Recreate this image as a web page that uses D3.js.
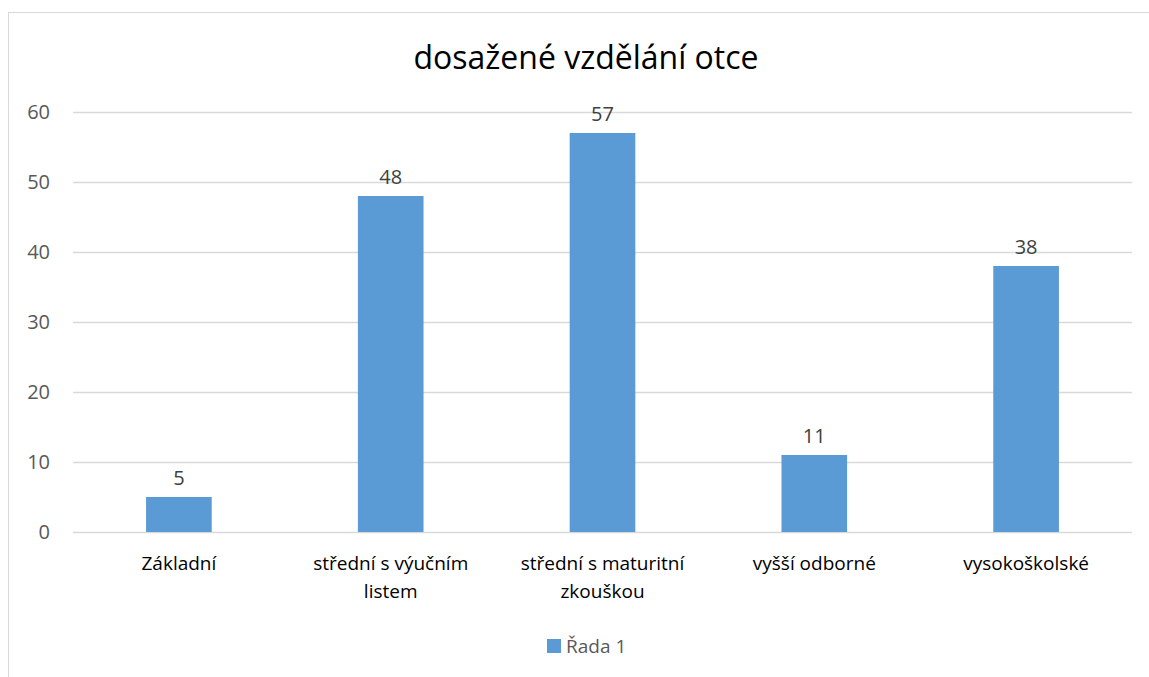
<!DOCTYPE html>
<html>
<head>
<meta charset="utf-8">
<script src="https://cdn.jsdelivr.net/npm/d3@7"></script>
<style>
  body { margin: 0; background: #fff; }
  svg { font-family: "Open Sans", "Liberation Sans", sans-serif; }
</style>
</head>
<body>
<svg id="chart"></svg>
<script>
// data
var categories = ["Základní", "střední s výučním listem", "střední s maturitní zkouškou", "vyšší odborné", "vysokoškolské"];
var categoryLines = [["Základní"], ["střední s výučním", "listem"], ["střední s maturitní", "zkouškou"], ["vyšší odborné"], ["vysokoškolské"]];
var values = [5, 48, 57, 11, 38];
var yTicks = [0, 10, 20, 30, 40, 50, 60];
var seriesName = "Řada 1";
var chartTitle = "dosažené vzdělání otce";

var width = 1149, height = 677;
var plotLeft = 73, plotRight = 1132, plotTop = 112, plotBottom = 532;
var barColor = "#5b9bd5";

var svg = d3.select("#chart")
    .attr("width", width)
    .attr("height", height);

// outer chart border
svg.append("rect")
    .attr("x", 8.5).attr("y", 12.5)
    .attr("width", width + 10).attr("height", height + 10)
    .attr("fill", "none")
    .attr("stroke", "#d9d9d9")
    .attr("stroke-width", 1);

svg.append("text")
    .attr("x", 586)
    .attr("y", 69)
    .attr("text-anchor", "middle")
    .attr("font-size", 32)
    .attr("fill", "#000")
    .text(chartTitle);

var x = d3.scaleBand()
    .domain(categories)
    .range([plotLeft, plotRight])
    .paddingInner(0.69)
    .paddingOuter(0.345);

var y = d3.scaleLinear()
    .domain([0, 60])
    .range([plotBottom, plotTop]);

// gridlines
svg.append("g").selectAll("line")
    .data(yTicks)
    .enter()
    .append("line")
    .attr("x1", plotLeft).attr("x2", plotRight)
    .attr("y1", function (d) { return Math.round(y(d)) + 0.5; })
    .attr("y2", function (d) { return Math.round(y(d)) + 0.5; })
    .attr("stroke", "#d9d9d9")
    .attr("stroke-width", 1.5);

// y tick labels
svg.append("g").selectAll("text")
    .data(yTicks)
    .enter()
    .append("text")
    .attr("x", 50)
    .attr("y", function (d) { return y(d); })
    .attr("dy", "0.35em")
    .attr("text-anchor", "end")
    .attr("font-size", 20)
    .attr("fill", "#595959")
    .text(function (d) { return d; });

// bars
svg.append("g").selectAll("rect")
    .data(values)
    .enter()
    .append("rect")
    .attr("x", function (d, i) { return x(categories[i]); })
    .attr("width", x.bandwidth())
    .attr("y", function (d) { return y(d); })
    .attr("height", function (d) { return y(0) - y(d); })
    .attr("fill", barColor);

// value labels
svg.append("g").selectAll("text")
    .data(values)
    .enter()
    .append("text")
    .attr("x", function (d, i) { return x(categories[i]) + x.bandwidth() / 2; })
    .attr("y", function (d) { return y(d) - 12; })
    .attr("text-anchor", "middle")
    .attr("font-size", 20)
    .attr("fill", "#404040")
    .text(function (d) { return d; });

// category labels
var catG = svg.append("g").selectAll("text")
    .data(categoryLines)
    .enter()
    .append("text")
    .attr("text-anchor", "middle")
    .attr("font-size", 19)
    .attr("fill", "#000");

catG.selectAll("tspan")
    .data(function (d, i) { return d.map(function (s) { return { s: s, i: i }; }); })
    .enter()
    .append("tspan")
    .attr("x", function (d) { return x(categories[d.i]) + x.bandwidth() / 2; })
    .attr("y", function (d, j) { return 570 + j * 28; })
    .text(function (d) { return d.s; });

// legend
var legend = svg.append("g");
legend.append("rect")
    .attr("x", 547).attr("y", 639)
    .attr("width", 14).attr("height", 14)
    .attr("fill", barColor);
legend.append("text")
    .attr("x", 566).attr("y", 653)
    .attr("font-size", 19)
    .attr("fill", "#595959")
    .text(seriesName);
</script>
</body>
</html>
